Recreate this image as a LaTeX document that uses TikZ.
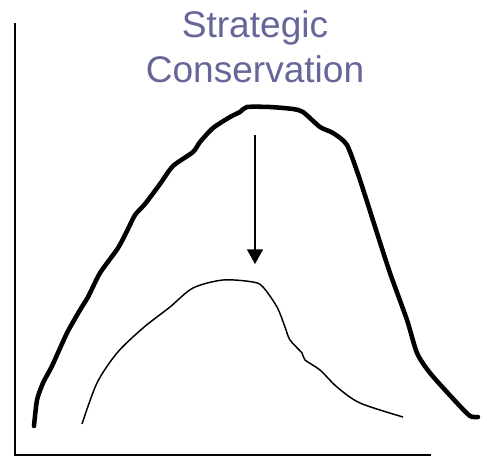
\documentclass[tikz,border=0pt]{standalone}
\usepackage{fontspec}
\setmainfont{Liberation Sans}
\usetikzlibrary{arrows.meta}
\definecolor{titleblue}{RGB}{102,102,153}

\begin{document}
\begin{tikzpicture}[x=0.75pt, y=-0.75pt,
  title/.style={anchor=base, inner sep=0pt, text=titleblue, font=\fontsize{27.8}{34}\selectfont},
  upper/.style={line width=3.4pt, line join=round, line cap=round},
  lower/.style={line width=1.1pt, line join=round}]
\useasboundingbox (0,0) rectangle (487,458);
% axes
\coordinate (o) at (15,455);
\coordinate (ytop) at (15,23);
\coordinate (xend) at (431,455);
\draw[line width=1.5pt] (ytop) -- (o) -- (xend);
% heading
\node[title] (line1) at (255,37) {Strategic};
\node[title] (line2) at (255,82) {Conservation};
% outer curve
\draw[upper] plot[smooth, tension=0.4] coordinates {(34,426) (37,400) (43,383) (52,366)
  (67,333) (80,310) (88,297) (100,273) (118,248) (127,231) (135,215) (145,204)
  (160,184) (173,166) (193,152) (200,142) (213,128) (230,117) (240,112) (247,107)
  (270,107) (293,109) (303,112) (320,127) (333,133) (347,145) (360,180) (377,233)
  (390,273) (407,320) (417,353) (430,373) (457,403) (470,416) (478,417)};
% inner curve
\draw[lower] plot[smooth, tension=0.5] coordinates {(82,424) (97,383) (117,353)
  (143,328) (170,307) (193,288) (223,280) (253,282) (263,287) (277,307) (285,327)
  (290,340) (302,353) (305,360) (320,370) (337,387) (360,403) (403,417)};
% downward shift
\coordinate (from) at (255,135);
\coordinate (to) at (255,264);
\draw[line width=1.3pt, -{Triangle[length=11pt, width=12pt]}] (from) -- (to);
\end{tikzpicture}
\end{document}
